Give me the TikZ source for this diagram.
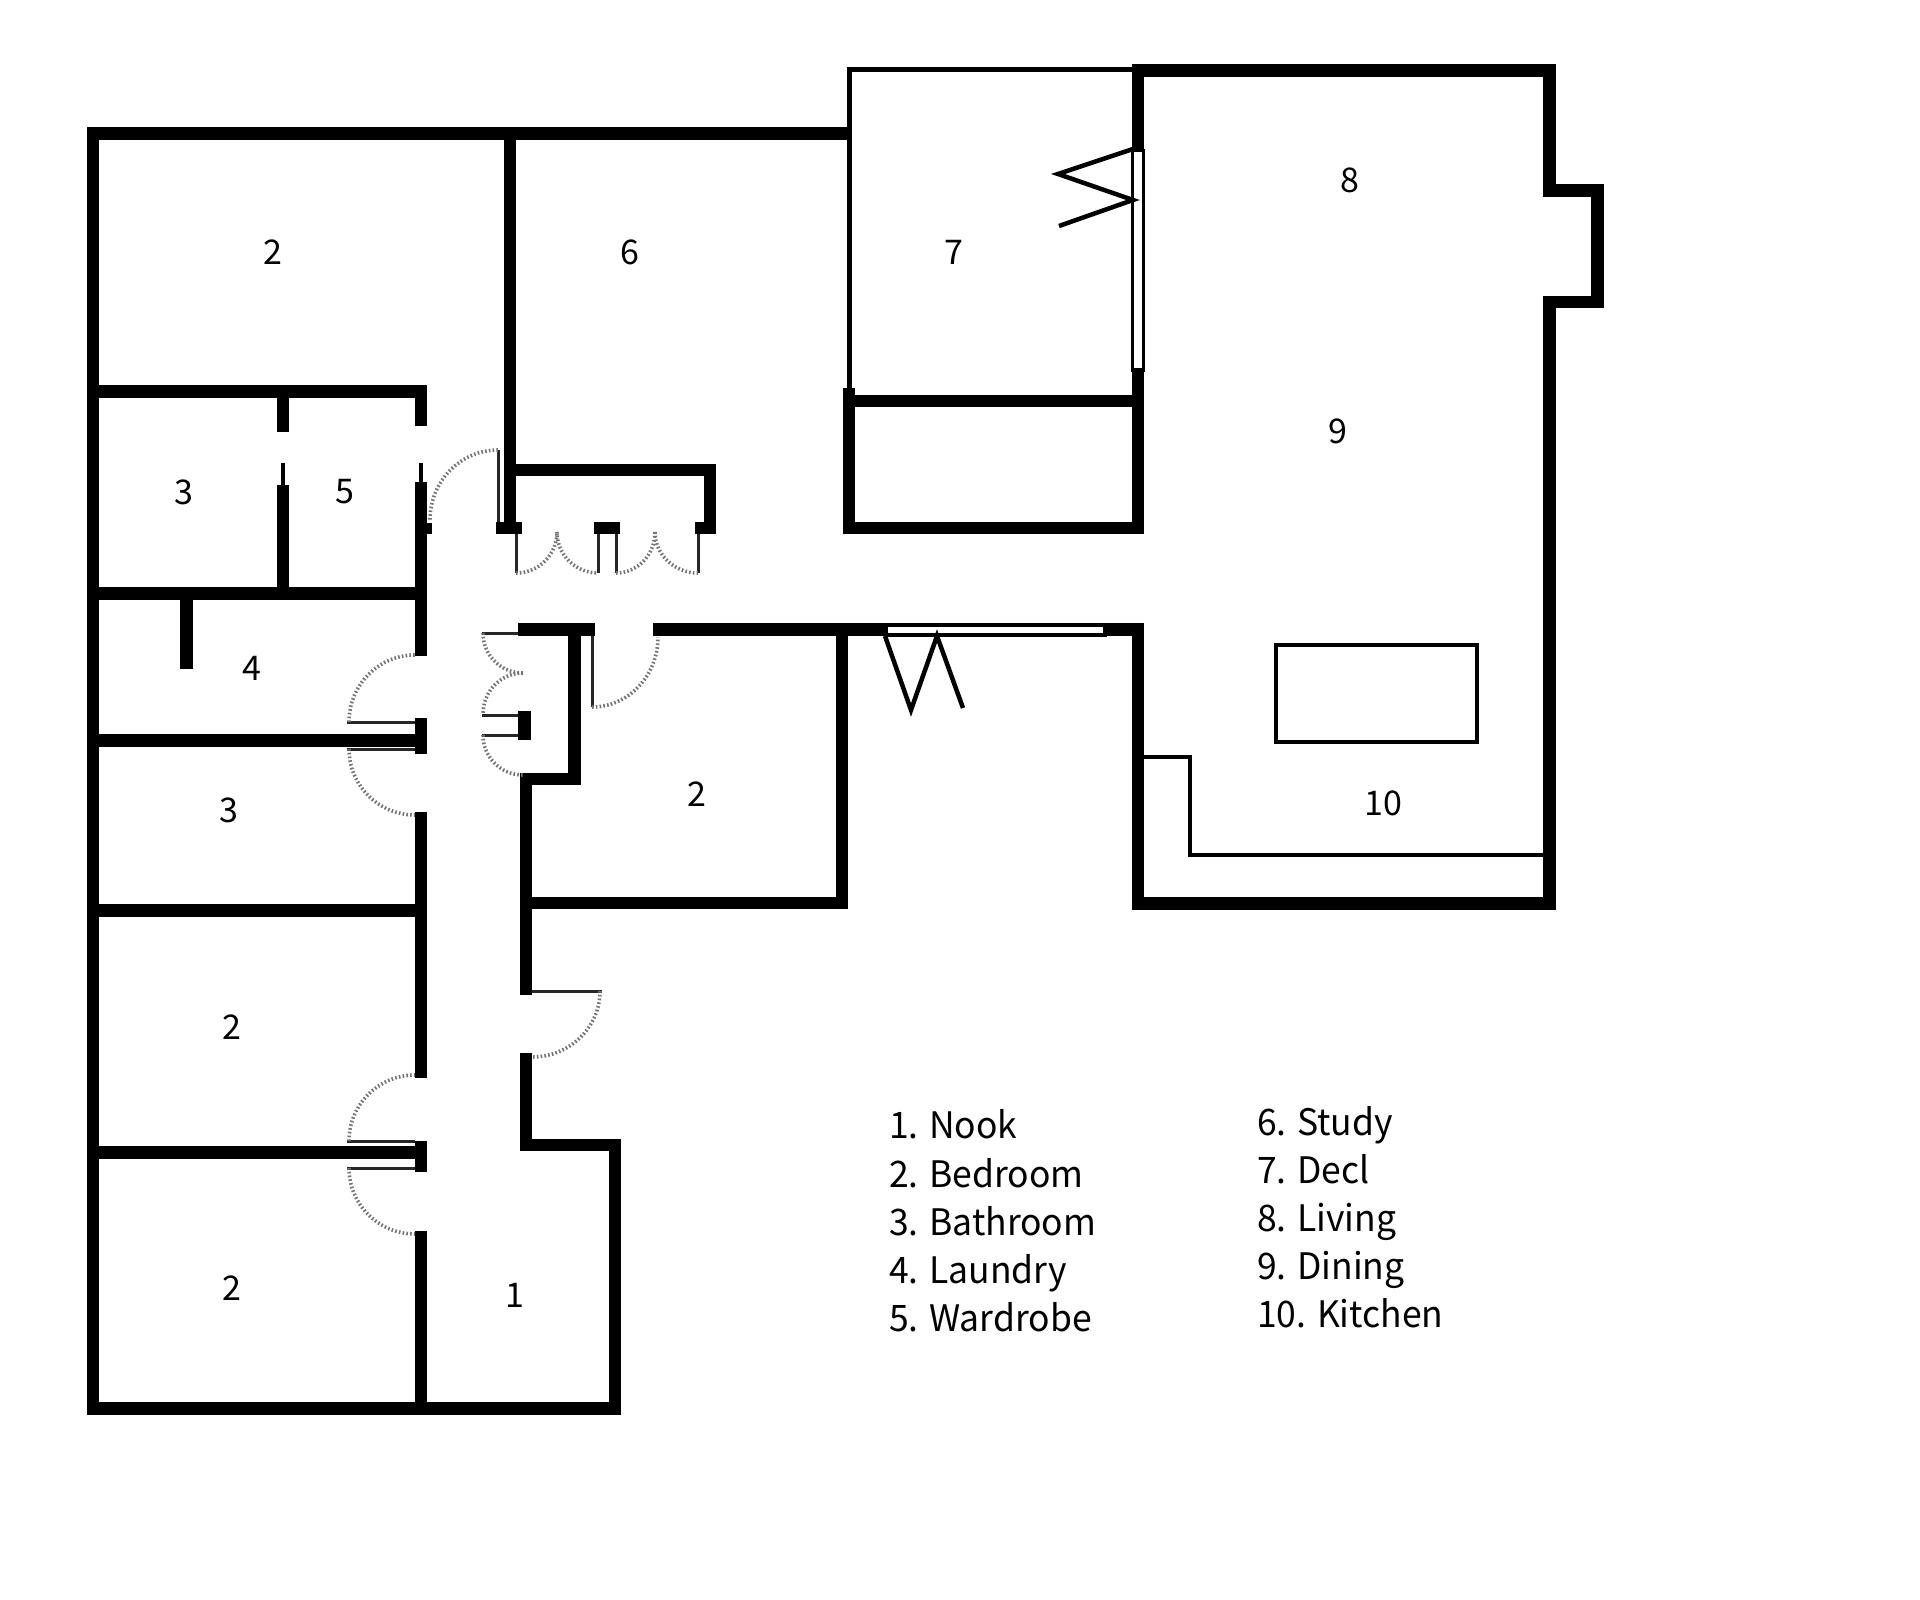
\documentclass[tikz,border=0pt]{standalone}
\usepackage{fontspec}
\setmainfont{Noto Sans CJK SC}
\usetikzlibrary{calc}
\tikzset{
  wall/.style={line width=12.5pt,line join=miter,black},
  thinwall/.style={line width=4.5pt,line join=miter,black},
  leaf/.style={line width=3pt,black!85},
  doorarc/.style={line width=3.6pt,black!55,dash pattern=on 1.6pt off 2.2pt},
  block/.style={fill=black,draw=none},
  glass/.style={fill=white,draw=none},
  roomlabel/.style={font=\fontsize{34}{34}\selectfont,inner sep=0pt},
  legendlabel/.style={font=\fontsize{36.5}{36.5}\selectfont,inner sep=0pt,anchor=base west,xscale=.972,transform shape}
}
\newcommand\qarc[3]{\draw[doorarc] (#2) .. controls ($(#2)+0.5523*(#3)-0.5523*(#1)$) and ($(#3)+0.5523*(#2)-0.5523*(#1)$) .. (#3);}
\begin{document}
\begin{tikzpicture}[x=1pt,y=-1pt]
\useasboundingbox (0,0) rectangle (1920,1600);
\fill[white] (0,0) rectangle (1920,1600);
% outer shell, west wing
\draw[wall] (526,1053) -- (526,1145) -- (615,1145) -- (615,1408.5) -- (93,1408.5) -- (93,133.5) -- (849,133.5);
% study / closet
\draw[wall] (510,133) -- (510,534);
\draw[wall] (510,470) -- (710,470) -- (710,534);
\fill[block] (496,522) rectangle (522,534);
\fill[block] (594,522) rectangle (620,534);
\fill[block] (695,522) rectangle (716,534);
% rooms on the west side
\draw[wall] (93,391.5) -- (421,391.5) -- (421,426);
\draw[wall] (283,391) -- (283,432);
\draw[wall] (283,485) -- (283,593);
\draw[thinwall] (283,463) -- (283,485);
\draw[thinwall] (421,463) -- (421,483);
\draw[wall] (421,482) -- (421,656);
\fill[block] (427,523) rectangle (432,534);
\draw[wall] (93,593.5) -- (421,593.5);
\draw[wall] (186.5,593) -- (186.5,669);
\draw[wall] (93,740.5) -- (415,740.5);
\fill[block] (415,718) rectangle (427,754);
\draw[wall] (421,812) -- (421,1078);
\draw[wall] (93,910.5) -- (421,910.5);
\draw[wall] (93,1152.5) -- (415,1152.5);
\fill[block] (415,1141) rectangle (427,1172);
\draw[wall] (421,1231) -- (421,1408);
% corridor east side, bedroom
\draw[wall] (518,629.5) -- (595,629.5);
\draw[wall] (574.5,629) -- (574.5,779) -- (526,779) -- (526,995);
\draw[wall] (526,903) -- (842,903) -- (842,629);
\draw[wall] (653,629.5) -- (884,629.5);
\fill[block] (518,711) rectangle (531,740);
% south sliding door
\fill[block] (884,623) rectangle (1107,636.5);
\fill[glass] (888,627) rectangle (1103,633);
% east wing shell
\draw[wall] (1107,629.5) -- (1138,629.5) -- (1138,903.5) -- (1549.5,903.5) -- (1549.5,302) -- (1597.5,302) -- (1597.5,190.5) -- (1549.5,190.5) -- (1549.5,70.5) -- (1138,70.5) -- (1138,149);
% east sliding door
\fill[block] (1131,149) rectangle (1145,372);
\fill[glass] (1134,152) rectangle (1142,368);
% store under deck
\draw[wall] (849,388) -- (849,528) -- (1138,528) -- (1138,372);
\draw[wall] (849,401) -- (1138,401);
% deck outline
\draw[thinwall] (849.5,390) -- (849.5,69.5) -- (1134,69.5);
% folding doors
\draw[thinwall] (1133,149) -- (1058,174) -- (1133,200) -- (1059,226);
\draw[thinwall] (885,636) -- (911,710) -- (937,636) -- (963,708);
% kitchen
\draw[thinwall] (1276,645) rectangle (1477,742);
\draw[thinwall] (1144,757) -- (1190,757) -- (1190,855) -- (1544,855);
% door leaves
\draw[leaf] (498,450) -- (498,522);
\draw[leaf] (516,534) -- (516,573);
\draw[leaf] (598,534) -- (598,573);
\draw[leaf] (616,534) -- (616,573);
\draw[leaf] (698,534) -- (698,573);
\draw[leaf] (347,722) -- (415,722);
\draw[leaf] (347,749) -- (415,749);
\draw[leaf] (347,1141) -- (415,1141);
\draw[leaf] (347,1168) -- (415,1168);
\draw[leaf] (482,633) -- (518,633);
\draw[leaf] (482,715) -- (518,715);
\draw[leaf] (482,735) -- (518,735);
\draw[leaf] (592,636) -- (592,707);
\draw[leaf] (532,991) -- (602,991);
% door swings
\qarc{498,520}{498,450}{430,520}
\qarc{516,532}{516,573}{557,532}
\qarc{598,532}{557,532}{598,573}
\qarc{616,532}{616,573}{655,532}
\qarc{698,532}{655,532}{698,573}
\qarc{415,722}{349,722}{415,655}
\qarc{415,749}{349,749}{415,815}
\qarc{415,1141}{349,1141}{415,1075}
\qarc{415,1168}{349,1168}{415,1234}
\qarc{523,633}{483,633}{523,673}
\qarc{523,714}{523,673}{483,714}
\qarc{523,735}{483,735}{523,775}
\qarc{592,637}{592,707}{658,637}
\qarc{532,991}{600,991}{532,1057}
% room numbers
\node[roomlabel] (r2a) at (272.5,252) {2};
\node[roomlabel] (r6) at (630,252) {6};
\node[roomlabel] (r7) at (954,252) {7};
\node[roomlabel] (r8) at (1350,180) {8};
\node[roomlabel] (r9) at (1338,431) {9};
\node[roomlabel] (r3a) at (184,492) {3};
\node[roomlabel] (r5) at (344.5,492) {5};
\node[roomlabel] (r4) at (252,668) {4};
\node[roomlabel] (r3b) at (228.5,810) {3};
\node[roomlabel] (r2b) at (697,794) {2};
\node[roomlabel] (r10) at (1383,803) {10};
\node[roomlabel] (r2c) at (232,1027) {2};
\node[roomlabel] (r2d) at (232,1288) {2};
\node[roomlabel] (r1) at (514.5,1295) {1};
% legend
\node[legendlabel] (l1) at (889,1138) {1. Nook};
\node[legendlabel] (l2) at (889,1187) {2. Bedroom};
\node[legendlabel] (l3) at (889,1235) {3. Bathroom};
\node[legendlabel] (l4) at (889,1283) {4. Laundry};
\node[legendlabel] (l5) at (889,1331) {5. Wardrobe};
\node[legendlabel] (l6) at (1257,1135) {6. Study};
\node[legendlabel] (l7) at (1257,1183) {7. Decl};
\node[legendlabel] (l8) at (1257,1231) {8. Living};
\node[legendlabel] (l9) at (1257,1279) {9. Dining};
\node[legendlabel] (l10) at (1257,1327) {10. Kitchen};
\end{tikzpicture}
\end{document}
